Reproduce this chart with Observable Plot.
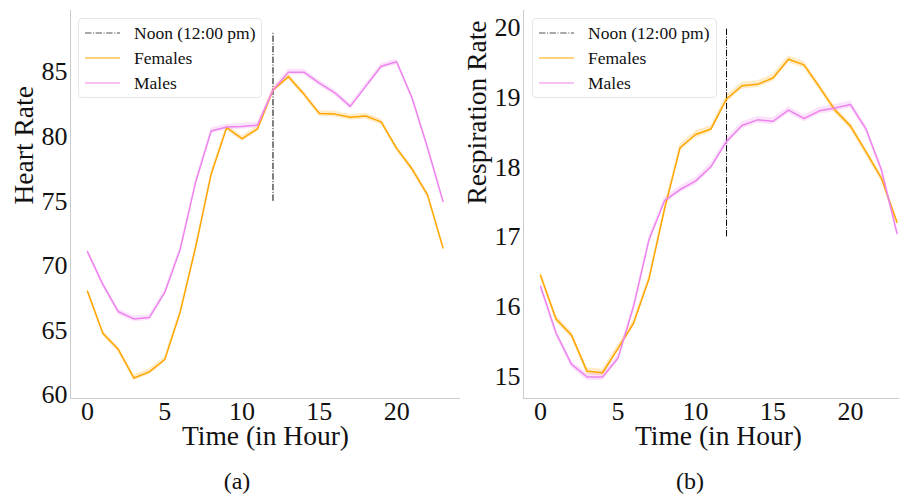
<!DOCTYPE html>
<html>
<head>
<meta charset="utf-8">
<script src="https://cdn.jsdelivr.net/npm/d3@7"></script>
<script src="https://cdn.jsdelivr.net/npm/@observablehq/plot@0.6"></script>
<style>
  html, body { margin: 0; padding: 0; background: #fff; }
  body { width: 899px; height: 494px; position: relative; overflow: hidden; font-family: "Liberation Serif", "Times New Roman", serif; }
  .panel { position: absolute; top: 0; }
  .panel svg text { font-family: "Liberation Serif", "Times New Roman", serif !important; font-variant: normal !important; }
  .caption { position: absolute; font-size: 24px; line-height: 24px; transform: translateX(-50%); color: #111; }
  .legend { position: absolute; border: 1px solid #e6e6e6; border-radius: 4px; background: rgba(255,255,255,0.85); box-sizing: border-box; }
  .legend .row { position: absolute; left: 0; height: 20px; display: flex; align-items: center; }
  .legend .row svg { position: absolute; left: 6px; top: 0; }
  .legend .row span { position: absolute; left: 55px; font-size: 17.5px; white-space: nowrap; line-height: 20px; color: #111; }
</style>
</head>
<body>
<div id="left" class="panel" style="left:0px"></div>
<div id="right" class="panel" style="left:450px"></div>
<div class="caption" style="left:237px; top:469px">(a)</div>
<div class="caption" style="left:690px; top:469px">(b)</div>
<script>
// ---- data ----
const hours = [0,1,2,3,4,5,6,7,8,9,10,11,12,13,14,15,16,17,18,19,20,21,22,23];
const xTicks = [0, 5, 10, 15, 20];
const heartTicks = [60, 65, 70, 75, 80, 85];
const respTicks = [15, 16, 17, 18, 19, 20];
const seriesNames = ["Noon (12:00 pm)", "Females", "Males"];

const heartFemales = [68.04, 64.77, 63.53, 61.33, 61.8, 62.76, 66.44, 71.47, 77.1, 80.7, 79.85, 80.6, 83.6, 84.65, 83.3, 81.8, 81.75, 81.5, 81.6, 81.15, 79.1, 77.5, 75.5, 71.4];
const heartMales   = [71.1, 68.55, 66.45, 65.9, 66.0, 67.95, 71.3, 76.5, 80.45, 80.75, 80.8, 80.9, 83.6, 85.0, 85.0, 84.15, 83.4, 82.35, 83.9, 85.45, 85.8, 83.0, 79.15, 75.0];
const respFemales  = [16.45, 15.82, 15.59, 15.07, 15.05, 15.4, 15.76, 16.4, 17.4, 18.28, 18.47, 18.55, 18.98, 19.17, 19.19, 19.28, 19.55, 19.47, 19.15, 18.82, 18.59, 18.22, 17.84, 17.21];
const respMales    = [16.29, 15.62, 15.17, 14.99, 14.99, 15.26, 16.0, 16.96, 17.52, 17.68, 17.8, 18.01, 18.37, 18.6, 18.68, 18.66, 18.82, 18.7, 18.81, 18.85, 18.9, 18.55, 17.96, 17.05];

const heartCI = 0.22;
const respCI = 0.05;
const noonHour = 12;
const noonHeart = [75, 88];
const noonResp = [17, 20];

const FEMALE = "#ffa500";
const MALE = "#ee82ee";
const DASHDOT = "6.4,1.6,1,1.6";
const FONT = "Liberation Serif";

function panel({females, males, ci, noon, xDomain, yDomain, yTicks, yLabel, width, marginLeft, marginRight, labelShift}) {
  const rows = hours.map((h, i) => ({hour: h, f: females[i], m: males[i]}));
  return Plot.plot({
    width, height: 455,
    marginLeft, marginRight, marginTop: 10, marginBottom: 57,
    style: {fontFamily: FONT, background: "transparent", color: "#111", overflow: "visible"},
    x: {domain: xDomain},
    y: {domain: yDomain},
    marks: [
      Plot.ruleX([xDomain[0]], {stroke: "#cccccc", strokeWidth: 1}),
      Plot.ruleY([yDomain[0]], {stroke: "#cccccc", strokeWidth: 1}),
      Plot.axisX({ticks: xTicks, tickSize: 0, tickPadding: 3, fontSize: 26, fontFamily: FONT, tickFormat: d3.format("d"), label: null}),
      Plot.axisY({ticks: yTicks, tickSize: 0, tickPadding: 3, fontSize: 26, fontFamily: FONT, tickFormat: d3.format("d"), label: null}),
      Plot.ruleX([noonHour], {y1: noon[0], y2: noon[1], stroke: "#000", strokeWidth: 1, strokeDasharray: DASHDOT}),
      Plot.areaY(rows, {x: "hour", y1: d => d.f - ci, y2: d => d.f + ci, fill: FEMALE, fillOpacity: 0.22}),
      Plot.areaY(rows, {x: "hour", y1: d => d.m - ci, y2: d => d.m + ci, fill: MALE, fillOpacity: 0.22}),
      Plot.lineY(rows, {x: "hour", y: "f", stroke: FEMALE, strokeWidth: 1.5}),
      Plot.lineY(rows, {x: "hour", y: "m", stroke: MALE, strokeWidth: 1.5}),
      Plot.text(["Time (in Hour)"], {frameAnchor: "bottom", dy: 46, dx: labelShift, fontSize: 27.5, fontFamily: FONT, fill: "#111"}),
      Plot.text([yLabel], {frameAnchor: "left", rotate: -90, dx: -46, fontSize: 27.5, fontFamily: FONT, fill: "#111"})
    ]
  });
}

document.getElementById("left").append(panel({
  females: heartFemales, males: heartMales, ci: heartCI, noon: noonHeart,
  xDomain: [-1.1, 24.13], yDomain: [59.74, 89.77], yTicks: heartTicks, yLabel: "Heart Rate",
  width: 470, marginLeft: 70, marginRight: 10, labelShift: 0
}));

// right panel: the axes extend past the image edge, so its label sits right of the visible centre
document.getElementById("right").append(panel({
  females: respFemales, males: respMales, ci: respCI, noon: noonResp,
  xDomain: [-1.1, 23.16], yDomain: [14.68, 20.25], yTicks: respTicks, yLabel: "Respiration Rate",
  width: 449, marginLeft: 73, marginRight: 0, labelShift: 7
}));

function legend(left, top, w, h) {
  const el = document.createElement("div");
  el.className = "legend";
  el.style.left = left + "px"; el.style.top = top + "px";
  el.style.width = w + "px"; el.style.height = h + "px";
  const styles = [
    {stroke: "#555", dash: DASHDOT},
    {stroke: FEMALE, dash: null},
    {stroke: MALE, dash: null}
  ];
  seriesNames.forEach((name, i) => {
    const row = document.createElement("div");
    row.className = "row";
    row.style.top = (4 + i * 25) + "px";
    row.innerHTML = `<svg width="36" height="20"><line x1="0" x2="35" y1="10" y2="10" stroke="${styles[i].stroke}" stroke-width="1.2" ${styles[i].dash ? `stroke-dasharray="${styles[i].dash}"` : ""}/></svg><span>${name}</span>`;
    el.append(row);
  });
  document.body.append(el);
}
legend(78, 18, 184, 80);
legend(532, 18, 185, 80);
</script>
</body>
</html>
